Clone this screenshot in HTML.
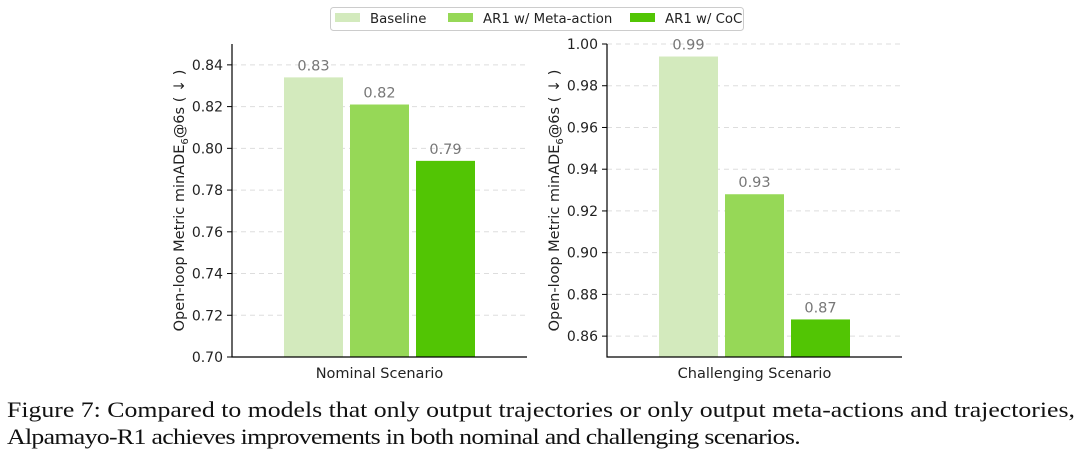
<!DOCTYPE html>
<html><head><meta charset="utf-8"><style>
body{margin:0;background:#fff;width:1080px;height:462px;overflow:hidden}
svg text{font-family:"DejaVu Sans","Liberation Sans",sans-serif}
.cap{position:absolute;left:7px;top:396px;font-family:"Liberation Serif",serif;font-size:22px;line-height:27px;color:#111;white-space:nowrap;transform-origin:0 0}
</style></head><body>
<svg id="c" width="1080" height="462" style="position:absolute;left:0;top:0"></svg>
<div class="cap" id="cap"><span id="l1">Figure 7: Compared to models that only output trajectories or only output meta-actions and trajectories,</span><br><span id="l2">Alpamayo-R1 achieves improvements in both nominal and challenging scenarios.</span></div>
<script>
const series=["Baseline","AR1 w/ Meta-action","AR1 w/ CoC"];
const colors=["#d3eabd","#96d857","#52c504"];
const nominalValues=[0.834,0.821,0.794];
const challengingValues=[0.994,0.928,0.868];
const nominalLabels=["0.83","0.82","0.79"];
const challengingLabels=["0.99","0.93","0.87"];
const nominalTicks=[0.70,0.72,0.74,0.76,0.78,0.80,0.82,0.84];
const challengingTicks=[0.86,0.88,0.90,0.92,0.94,0.96,0.98,1.00];
const NS="http://www.w3.org/2000/svg";
const svg=document.getElementById('c');
function mk(t,a,txt){const e=document.createElementNS(NS,t);for(const k in a)e.setAttribute(k,a[k]);if(txt!==undefined)e.textContent=txt;svg.appendChild(e);return e;}
function panel(x0,x1,top,bot,ymin,ymax,vals,labels,ticks,title,key){
  const y=v=>bot-(v-ymin)/(ymax-ymin)*(bot-top);
  ticks.forEach(t=>{
    const g=mk('line',{x1:x0,x2:x1,y1:y(t),y2:y(t),stroke:'#ddd','stroke-dasharray':'5,4','stroke-width':1});
    
    const tk=mk('line',{x1:x0-5,x2:x0,y1:y(t),y2:y(t),stroke:'#000','stroke-width':1});
    
    const l=mk('text',{x:x0-9,y:y(t)+5,'text-anchor':'end','font-size':14,fill:'#222'},t.toFixed(2));
    
  });
  const bw=59,gap=7,cx=(x0+x1)/2,start=cx-(3*bw+2*gap)/2;
  vals.forEach((v,i)=>{
    const bx=start+i*(bw+gap);
    const r=mk('rect',{x:bx,y:y(v),width:bw,height:bot-y(v),fill:colors[i]});
    
    const t=mk('text',{x:bx+bw/2,y:y(v)-7,'text-anchor':'middle','font-size':14.5,fill:'#777'},labels[i]);
    
  });
  const a=mk('path',{d:`M${x0} ${top}V${bot}H${x1}`,stroke:'#000',fill:'none','stroke-width':1.2});
  
  const xl=mk('text',{x:cx,y:bot+21,'text-anchor':'middle','font-size':14.5,fill:'#222'},title);
  
  const yt=mk('text',{transform:`translate(${x0-48},${(top+bot)/2}) rotate(-90)`,'text-anchor':'middle','font-size':14.5,fill:'#222'});
  yt.innerHTML='Open-loop Metric minADE<tspan font-size="10" dy="4">6</tspan><tspan dy="-4">@6s ( ↓ )</tspan>';
  
}
panel(232,527,44,357,0.70,0.85,nominalValues,nominalLabels,nominalTicks,"Nominal Scenario","nominal");
panel(607,902,44,357,0.85,1.0,challengingValues,challengingLabels,challengingTicks,"Challenging Scenario","challenging");
const lb=mk('rect',{x:330.5,y:7.5,width:413,height:23,rx:3,fill:'#fff',stroke:'#ccc'});

const lx=[335,448,630];
series.forEach((s,i)=>{
  const r=mk('rect',{x:lx[i],y:13,width:25,height:9,fill:colors[i]});
  
  const t=mk('text',{x:lx[i]+35,y:23,'font-size':13.3,fill:'#222'},s);
  
});
const l1=document.getElementById('l1');
const l2=document.getElementById('l2');
const w=l1.getBoundingClientRect().width;
const w2=l2.getBoundingClientRect().width;
const sc=1068/w;
l2.style.letterSpacing=((793/sc-w2)/l2.textContent.length)+'px';
document.getElementById('cap').style.transform='scaleX('+sc+')';
</script>
</body></html>
